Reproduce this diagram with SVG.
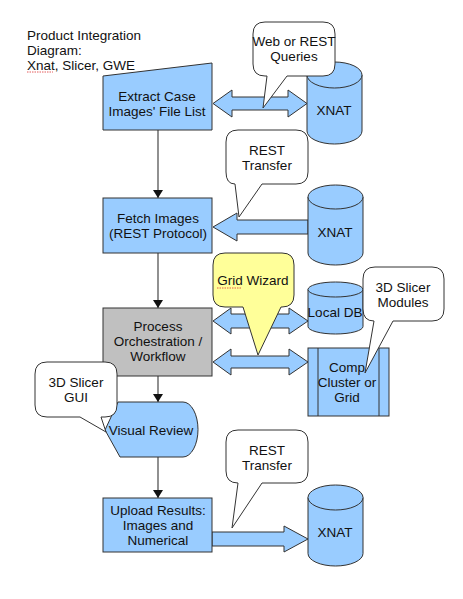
<svg xmlns="http://www.w3.org/2000/svg" width="463" height="599" viewBox="0 0 463 599">
<defs>
<style>
text{font-family:"Liberation Sans",Arial,sans-serif;font-size:13.5px;fill:#111;text-anchor:middle}
.t{text-anchor:start}
.box{fill:#99ccff;stroke:#333;stroke-width:1}
.gray{fill:#c0c0c0;stroke:#333;stroke-width:1}
.blk{fill:#99ccff;stroke:#333;stroke-width:1}
.call{fill:#fff;stroke:#333;stroke-width:1}
.yel{fill:#ffff99;stroke:#333;stroke-width:1}
.con{stroke:#555;stroke-width:1.3;fill:none}
.sq{stroke:#d33;stroke-width:0.8;fill:none;stroke-dasharray:1.5 1}
</style>
<marker id="ah" markerWidth="8" markerHeight="10" refX="8" refY="5" orient="auto" markerUnits="userSpaceOnUse">
<path d="M0,0 L8,5 L0,10 Z" fill="#111"/>
</marker>
</defs>
<rect width="463" height="599" fill="#fff"/>

<g id="title">
<text class="t" x="27" y="40">Product Integration</text>
<text class="t" x="27" y="55">Diagram:</text>
<text class="t" x="27" y="69.5">Xnat, Slicer, GWE</text>
<path class="sq" d="M27,72 H53"/>
</g>

<g id="connectors">
<line class="con" x1="158" y1="130" x2="158" y2="198" marker-end="url(#ah)"/>
<line class="con" x1="158" y1="253" x2="158" y2="308" marker-end="url(#ah)"/>
<line class="con" x1="158" y1="376" x2="158" y2="402" marker-end="url(#ah)"/>
<line class="con" x1="158" y1="457" x2="158" y2="498" marker-end="url(#ah)"/>
<polygon id="arrow-extract-xnat" class="blk" points="213,103.5 232,90 232,97 288,97 288,90 307,103.5 288,117 288,110 232,110 232,117"/>
<polygon id="arrow-xnat-fetch" class="blk" points="213,227 237,213 237,220 308,220 308,234 237,234 237,241"/>
<polygon id="arrow-process-localdb" class="blk" points="213,321 231,308 231,314 289,314 289,308 308,321 289,334 289,328 231,328 231,334"/>
<polygon id="arrow-process-comp" class="blk" points="213,362 231,349 231,356 289,356 289,349 308,362 289,375 289,368 231,368 231,375"/>
<polygon id="arrow-upload-xnat" class="blk" points="212,532 284,532 284,526 308,539 284,552 284,546 212,546"/>
</g>

<g id="extract">
<polygon class="box" points="103,76 212,63 212,130 103,130"/>
<text x="157" y="101">Extract Case</text>
<text x="157" y="116">Images' File List</text>
</g>

<g id="xnat1">
<path class="box" d="M307,75 V131 A27.5,13 0 0 0 362,131 V75 A27.5,13 0 0 0 307,75 Z"/>
<path class="box" d="M307,75 A27.5,13 0 0 0 362,75"/>
<text x="334" y="115">XNAT</text>
</g>

<g id="fetch">
<rect class="box" x="103" y="198" width="109" height="55"/>
<text x="158" y="223">Fetch Images</text>
<text x="158" y="238">(REST Protocol)</text>
</g>

<g id="xnat2">
<path class="box" d="M308,197 V253 A27.5,12 0 0 0 363,253 V197 A27.5,12 0 0 0 308,197 Z"/>
<path class="box" d="M308,197 A27.5,12 0 0 0 363,197"/>
<text x="335" y="237">XNAT</text>
</g>

<g id="process">
<rect class="gray" x="103" y="308" width="109" height="68"/>
<text x="158" y="331">Process</text>
<text x="158" y="346">Orchestration /</text>
<text x="158" y="361">Workflow</text>
</g>

<g id="localdb">
<path class="box" d="M308,289.5 V326.5 A27.5,7.5 0 0 0 363,326.5 V289.5 A27.5,7.5 0 0 0 308,289.5 Z"/>
<path class="box" d="M308,289.5 A27.5,7.5 0 0 0 363,289.5"/>
<text x="335" y="317">Local DB</text>
</g>

<g id="comp">
<rect class="box" x="308" y="348" width="81" height="68"/>
<line x1="318" y1="348" x2="318" y2="416" stroke="#333"/>
<line x1="379" y1="348" x2="379" y2="416" stroke="#333"/>
<text x="347" y="372">Comp</text>
<text x="347" y="387">Cluster or</text>
<text x="347" y="402">Grid</text>
</g>

<g id="visual">
<path class="box" d="M118,402 H183 A15,27.5 0 0 1 183,457 H120 L105,430 Z"/>
<text x="151" y="435">Visual Review</text>
</g>

<g id="upload">
<rect class="box" x="103" y="498" width="109" height="54"/>
<text x="158" y="515">Upload Results:</text>
<text x="158" y="530">Images and</text>
<text x="158" y="545">Numerical</text>
</g>

<g id="xnat3">
<path class="box" d="M308,497.5 V553.5 A27.5,12.5 0 0 0 363,553.5 V497.5 A27.5,12.5 0 0 0 308,497.5 Z"/>
<path class="box" d="M308,497.5 A27.5,12.5 0 0 0 363,497.5"/>
<text x="335" y="537">XNAT</text>
</g>

<g id="callout-web">
<path class="call" d="M265,22 H323 Q335,22 335,34 V64 Q335,76 323,76 H287 L263,108 L267,76 H265 Q253,76 253,64 V34 Q253,22 265,22 Z"/>
<text x="294" y="46">Web or REST</text>
<text x="294" y="61">Queries</text>
</g>

<g id="callout-rest1">
<path class="call" d="M238,130 H296 Q308,130 308,142 V172 Q308,184 296,184 H262 L239,217 L235,184 Q226,184 226,172 V142 Q226,130 238,130 Z"/>
<text x="267" y="155">REST</text>
<text x="267" y="170">Transfer</text>
</g>

<g id="callout-grid">
<path class="yel" d="M225,253 H282 Q294,253 294,265 V295 Q294,307 282,307 H281 L258,355 L243,307 H225 Q213,307 213,295 V265 Q213,253 225,253 Z"/>
<text x="253" y="285">Grid Wizard</text>
<path class="sq" d="M217,288 H241"/>
</g>

<g id="callout-modules">
<path class="call" d="M375,267 H432 Q444,267 444,279 V309 Q444,321 432,321 H393 L365,373 L374,321 Q363,321 363,309 V279 Q363,267 375,267 Z"/>
<text x="403" y="292">3D Slicer</text>
<text x="403" y="307">Modules</text>
</g>

<g id="callout-gui">
<path class="call" d="M47,362 H105 Q117,362 117,374 V405 Q117,417 105,417 H101 L106,432 L80,417 H47 Q35,417 35,405 V374 Q35,362 47,362 Z"/>
<text x="76" y="387">3D Slicer</text>
<text x="76" y="402">GUI</text>
</g>

<g id="callout-rest2">
<path class="call" d="M238,430 H296 Q308,430 308,442 V471 Q308,483 296,483 H262 L232,528 L238,483 Q226,483 226,471 V442 Q226,430 238,430 Z"/>
<text x="267" y="455">REST</text>
<text x="267" y="470">Transfer</text>
</g>
</svg>
